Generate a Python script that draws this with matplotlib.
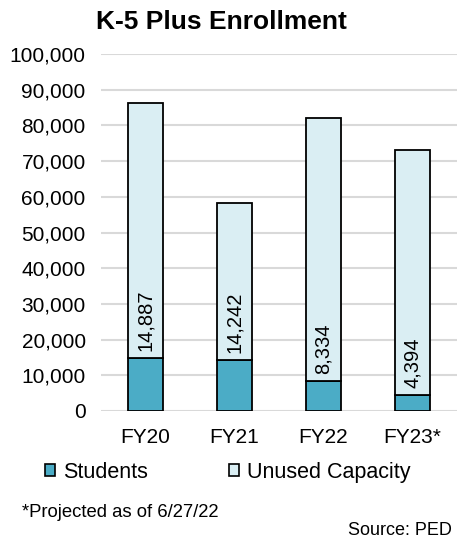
import numpy as np
import matplotlib.pyplot as plt
from matplotlib.patches import Patch

plt.rcParams['font.family'] = ['Liberation Sans', 'DejaVu Sans']

years = ["FY20", "FY21", "FY22", "FY23*"]
students = [14887, 14242, 8334, 4394]
capacity = [86400, 58300, 82000, 73000]
unused = [c - s for c, s in zip(capacity, students)]

fig = plt.figure(figsize=(4.58, 5.44), dpi=100)
ax = fig.add_axes([0.2205, 0.2445, 0.7775, 0.6562])

x = np.arange(len(years))
ax.bar(x, students, width=0.4, color="#4BACC6", edgecolor="black", linewidth=1.3, zorder=3)
ax.bar(x, unused, width=0.4, bottom=students, color="#DAEEF3", edgecolor="black", linewidth=1.3, zorder=3)

for i, s in enumerate(students):
    ax.annotate(f"{s:,}", (x[i], s), xytext=(0, 5), textcoords="offset points",
                rotation=90, ha="center", va="bottom", fontsize=14.5, zorder=4)

ax.set_xlim(-0.5, 3.5)
ax.set_ylim(0, 100000)
ax.set_yticks(np.arange(0, 100001, 10000))
ax.yaxis.set_major_formatter(plt.FuncFormatter(lambda v, p: f"{int(v):,}"))
ax.set_xticks(x)
ax.set_xticklabels(years)
ax.tick_params(axis="both", length=0, labelsize=15)
ax.tick_params(axis="y", pad=11)
ax.tick_params(axis="x", pad=12)
ax.grid(axis="y", color="#D9D9D9", linewidth=1.5, zorder=0)
for sp in ax.spines.values():
    sp.set_visible(False)

fig.text(0.483, 0.959, "K-5 Plus Enrollment", ha="center", va="center", fontsize=19, fontweight="bold")

handles = [Patch(facecolor="#4BACC6", edgecolor="black", linewidth=1.2, label="Students"),
           Patch(facecolor="#DAEEF3", edgecolor="black", linewidth=1.2, label="Unused Capacity")]
fig.legend(handles=handles, loc="center", bbox_to_anchor=(0.497, 0.132), ncol=2, frameon=False,
           fontsize=15.5, handlelength=0.48, handleheight=0.48, handletextpad=0.36, columnspacing=3.75)

fig.text(0.048, 0.057, "*Projected as of 6/27/22", ha="left", va="center", fontsize=13.3)
fig.text(0.987, 0.024, "Source: PED", ha="right", va="center", fontsize=13)

fig.savefig("out.png", dpi=100)
plt.close(fig)
